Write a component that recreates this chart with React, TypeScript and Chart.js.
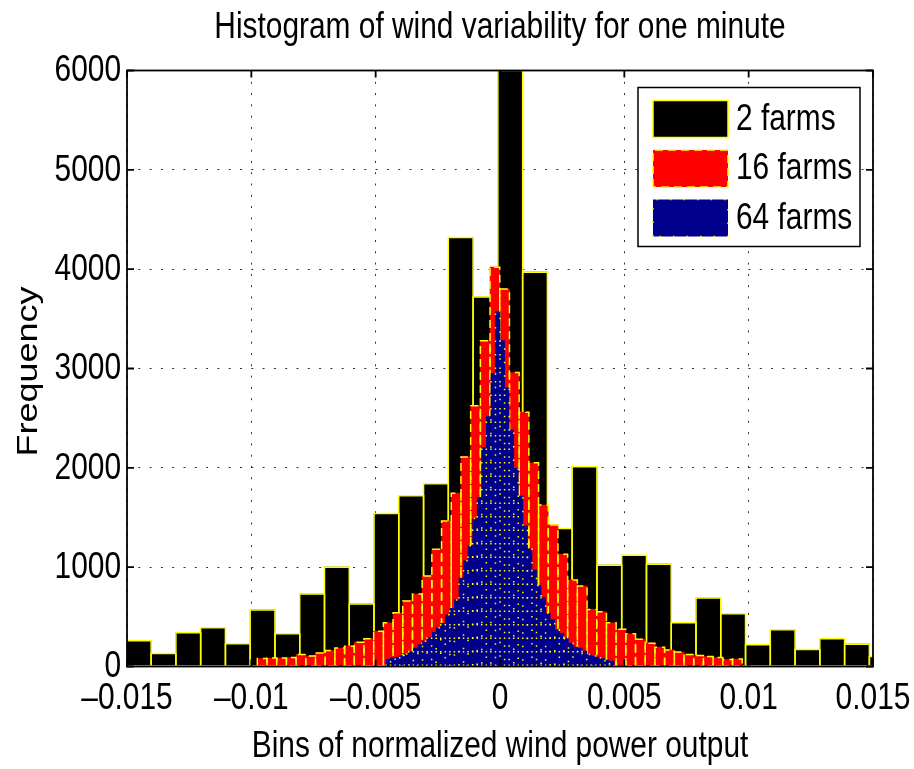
import React, { useEffect, useRef } from 'react';
import { Chart, registerables } from 'chart.js';

Chart.register(...registerables);

const TITLE = 'Histogram of wind variability for one minute';
const X_LABEL = 'Bins of normalized wind power output';
const Y_LABEL = 'Frequency';
const SERIES_NAMES = ['2 farms', '16 farms', '64 farms'];
const X_TICKS = [-0.015, -0.01, -0.005, 0, 0.005, 0.01, 0.015];
const Y_TICKS = [0, 1000, 2000, 3000, 4000, 5000, 6000];

// 2 farms: bin centres and counts
const FARMS2_BINS = [
  -0.014528, -0.013532, -0.012536, -0.01154, -0.010544, -0.009548, -0.008552, -0.007556,
  -0.00656, -0.005564, -0.004568, -0.003572, -0.002576, -0.00158, -0.000584, 0.000412,
  0.001408, 0.002404, 0.0034, 0.004396, 0.005392, 0.006388, 0.007384, 0.00838,
  0.009376, 0.010372, 0.011368, 0.012364, 0.01336, 0.014356, 0.015352,
];
const FARMS2_COUNTS = [
  260, 130, 340, 390, 230, 570, 330, 730, 1000, 630, 1540, 1720, 1840, 4320, 3720, 6000,
  3970, 1390, 2010, 1020, 1120, 1030, 440, 690, 530, 220, 370, 170, 280, 225, 100,
];

// 16 farms
const FARMS16_BINS = [
  -0.009565, -0.009175, -0.008785, -0.008395, -0.008005, -0.007615, -0.007225, -0.006835,
  -0.006445, -0.006055, -0.005665, -0.005275, -0.004885, -0.004495, -0.004105, -0.003715,
  -0.003325, -0.002935, -0.002545, -0.002155, -0.001765, -0.001375, -0.000985, -0.000595,
  -0.000205, 0.000185, 0.000575, 0.000965, 0.001355, 0.001745, 0.002135, 0.002525,
  0.002915, 0.003305, 0.003695, 0.004085, 0.004475, 0.004865, 0.005255, 0.005645,
  0.006035, 0.006425, 0.006815, 0.007205, 0.007595, 0.007985, 0.008375, 0.008765,
  0.009155, 0.009545,
];
const FARMS16_COUNTS = [
  80, 85, 85, 90, 120, 105, 135, 160, 185, 205, 245, 280, 355, 440, 540, 660,
  730, 910, 1180, 1465, 1745, 2110, 2625, 3280, 4020, 3800, 2960, 2560, 2050, 1625,
  1425, 1130, 870, 810, 575, 550, 440, 375, 330, 275, 235, 195, 165, 145, 120, 110,
  100, 90, 70, 75,
];

// 64 farms
const FARMS64_BINS = [
  -0.004492, -0.0043086, -0.0041252, -0.0039418, -0.0037584, -0.003575, -0.0033916, -0.0032082,
  -0.0030248, -0.0028414, -0.002658, -0.0024746, -0.0022912, -0.0021078, -0.0019244, -0.001741,
  -0.0015576, -0.0013742, -0.0011908, -0.0010074, -0.000824, -0.0006406, -0.0004572, -0.0002738,
  -0.0000904, 0.000093, 0.0002764, 0.0004598, 0.0006432, 0.0008266, 0.00101, 0.0011934,
  0.0013768, 0.0015602, 0.0017436, 0.001927, 0.0021104, 0.0022938, 0.0024772, 0.0026606,
  0.002844, 0.0030274, 0.0032108, 0.0033942, 0.0035776, 0.003761, 0.0039444, 0.0041278,
  0.0043112, 0.0044946,
];
const FARMS64_COUNTS = [
  75, 88, 95, 110, 125, 150, 185, 220, 255, 290, 345, 390, 435, 520, 585, 670,
  890, 1065, 1215, 1490, 1700, 2205, 2515, 2950, 3570, 3280, 2805, 2380, 1995, 1715,
  1415, 1185, 970, 815, 695, 535, 470, 370, 335, 280, 235, 195, 185, 155, 120, 105,
  95, 80, 65, 55,
];

const FILLS = ['#000000', '#ff0000', '#00008c'];
const EDGE = '#ffff00';
const EDGE_STYLES = [
  { dash: [] as number[], width: 1.5 },
  { dash: [8, 5], width: 1.5 },
  { dash: [1.5, 12], width: 1.5 },
];
const FONT = "36px 'Liberation Sans', Arial, sans-serif";
const SQUEEZE = 0.83;

const fmtX = (v: number) => {
  const r = Math.round(v * 1000) / 1000;
  if (r === 0) return '0';
  return (r < 0 ? '\u2013' : '') + String(Math.abs(r));
};

const toPoints = (xs: number[], ys: number[]) => xs.map((x, i) => ({ x, y: ys[i] }));

function edgePath(ctx: CanvasRenderingContext2D, l: number, t: number, r: number, b: number) {
  ctx.beginPath();
  ctx.moveTo(l, b);
  ctx.lineTo(l, t);
  ctx.lineTo(r, t);
  ctx.lineTo(r, b);
  ctx.closePath();
}

function text(
  ctx: CanvasRenderingContext2D,
  s: string,
  x: number,
  y: number,
  align: CanvasTextAlign,
  rotated = false,
) {
  ctx.save();
  ctx.translate(x, y);
  if (rotated) {
    ctx.rotate(-Math.PI / 2);
    ctx.scale(1, SQUEEZE);
  } else {
    ctx.scale(SQUEEZE, 1);
  }
  ctx.font = FONT;
  ctx.fillStyle = '#000';
  ctx.textAlign = align;
  ctx.textBaseline = 'middle';
  ctx.fillText(s, 0, 0);
  ctx.restore();
}

const overlayPlugin = {
  id: 'overlay',
  afterDatasetDraw(chart: any, args: any) {
    const st = EDGE_STYLES[args.index];
    const ctx: CanvasRenderingContext2D = chart.ctx;
    const a = chart.chartArea;
    ctx.save();
    ctx.beginPath();
    ctx.rect(a.left, a.top, a.right - a.left, a.bottom - a.top);
    ctx.clip();
    ctx.strokeStyle = EDGE;
    ctx.lineWidth = st.width;
    ctx.setLineDash(st.dash);
    for (const el of args.meta.data) {
      const p = el.getProps(['x', 'y', 'base', 'width'], true);
      const l = p.x - p.width / 2;
      const r = p.x + p.width / 2;
      edgePath(ctx, l, Math.min(p.y, p.base), r, Math.max(p.y, p.base));
      ctx.stroke();
    }
    ctx.restore();
  },
  afterDatasetsDraw(chart: any) {
    const ctx: CanvasRenderingContext2D = chart.ctx;
    const a = chart.chartArea;
    const xs = chart.scales.x;
    const ys = chart.scales.y;
    ctx.save();
    ctx.setLineDash([]);
    ctx.strokeStyle = '#000';
    ctx.lineWidth = 1.8;
    ctx.strokeRect(a.left, a.top, a.right - a.left, a.bottom - a.top);
    const tl = 7;
    ctx.beginPath();
    for (const v of X_TICKS) {
      const px = xs.getPixelForValue(v);
      ctx.moveTo(px, a.bottom);
      ctx.lineTo(px, a.bottom - tl);
      ctx.moveTo(px, a.top);
      ctx.lineTo(px, a.top + tl);
    }
    for (const v of Y_TICKS) {
      const py = ys.getPixelForValue(v);
      ctx.moveTo(a.left, py);
      ctx.lineTo(a.left + tl, py);
      ctx.moveTo(a.right, py);
      ctx.lineTo(a.right - tl, py);
    }
    ctx.stroke();

    // legend box
    const bw = 222;
    const bh = 159;
    const bx = a.right - 235;
    const by = a.top + 17;
    ctx.fillStyle = '#fff';
    ctx.fillRect(bx, by, bw, bh);
    ctx.lineWidth = 1.5;
    ctx.strokeStyle = '#000';
    ctx.strokeRect(bx, by, bw, bh);
    SERIES_NAMES.forEach((name, i) => {
      const rx = bx + 15;
      const ry = by + 13 + i * 49.5;
      const rw = 75;
      const rh = 37;
      ctx.fillStyle = FILLS[i];
      ctx.fillRect(rx, ry, rw, rh);
      ctx.strokeStyle = EDGE;
      ctx.lineWidth = EDGE_STYLES[i].width;
      ctx.setLineDash(EDGE_STYLES[i].dash);
      edgePath(ctx, rx, ry, rx + rw, ry + rh);
      ctx.stroke();
      ctx.setLineDash([]);
      text(ctx, name, bx + 98, ry + rh / 2 + 1, 'left');
    });
    ctx.restore();
  },
  afterDraw(chart: any) {
    const ctx: CanvasRenderingContext2D = chart.ctx;
    const a = chart.chartArea;
    const xs = chart.scales.x;
    const ys = chart.scales.y;
    const cx = (a.left + a.right) / 2;
    text(ctx, TITLE, cx, 28.5, 'center');
    for (const v of X_TICKS) {
      text(ctx, fmtX(v), xs.getPixelForValue(v), a.bottom + 32.5, 'center');
    }
    for (const v of Y_TICKS) {
      text(ctx, String(v), a.left - 6, ys.getPixelForValue(v) + 1, 'right');
    }
    text(ctx, X_LABEL, cx, 747.5, 'center');
    text(ctx, Y_LABEL, 29, (a.top + a.bottom) / 2 + 3, 'center', true);
  },
};

const hiddenX = {
  type: 'linear',
  min: -0.015,
  max: 0.015,
  offset: false,
  display: false,
  grid: { offset: false },
};

export default function App() {
  const ref = useRef<HTMLCanvasElement>(null);
  useEffect(() => {
    document.body.style.margin = '0';
    const canvas = ref.current;
    if (!canvas) return;
    const barCommon = {
      borderWidth: 0,
      barPercentage: 1,
      categoryPercentage: 1,
      grouped: false,
    };
    const chart = new Chart(canvas, {
      type: 'bar',
      data: {
        datasets: [
          {
            ...barCommon,
            label: SERIES_NAMES[0],
            data: toPoints(FARMS2_BINS, FARMS2_COUNTS),
            backgroundColor: FILLS[0],
            xAxisID: 'x',
            order: 3,
          },
          {
            ...barCommon,
            label: SERIES_NAMES[1],
            data: toPoints(FARMS16_BINS, FARMS16_COUNTS),
            backgroundColor: FILLS[1],
            xAxisID: 'x2',
            order: 2,
          },
          {
            ...barCommon,
            label: SERIES_NAMES[2],
            data: toPoints(FARMS64_BINS, FARMS64_COUNTS),
            backgroundColor: FILLS[2],
            xAxisID: 'x3',
            order: 1,
          },
        ] as any,
      },
      options: {
        responsive: false,
        animation: false,
        devicePixelRatio: 1,
        events: [],
        layout: { padding: { left: 0, right: 41, top: 70.5, bottom: 0 } },
        plugins: {
          legend: { display: false },
          tooltip: { enabled: false },
          title: { display: false },
        },
        scales: {
          x: {
            type: 'linear',
            min: -0.015,
            max: 0.015,
            offset: false,
            grid: { offset: false, color: '#333', lineWidth: 1, drawTicks: false },
            border: { display: false, dash: [2, 9.3] },
            afterBuildTicks: (s: any) => {
              s.ticks = X_TICKS.map((v) => ({ value: v }));
            },
            afterFit: (s: any) => {
              s.height = 102.5;
            },
            ticks: { display: false },
          },
          x2: hiddenX,
          x3: hiddenX,
          y: {
            type: 'linear',
            min: 0,
            max: 6000,
            grid: { color: '#333', lineWidth: 1, drawTicks: false },
            border: { display: false, dash: [2, 9.3] },
            afterBuildTicks: (s: any) => {
              s.ticks = Y_TICKS.map((v) => ({ value: v }));
            },
            afterFit: (s: any) => {
              s.width = 127;
            },
            ticks: { display: false },
          },
        } as any,
      },
      plugins: [overlayPlugin],
    } as any);
    return () => chart.destroy();
  }, []);
  return (
    <div style={{ width: 914, height: 769 }}>
      <canvas ref={ref} width={914} height={769} style={{ display: 'block' }} />
    </div>
  );
}
